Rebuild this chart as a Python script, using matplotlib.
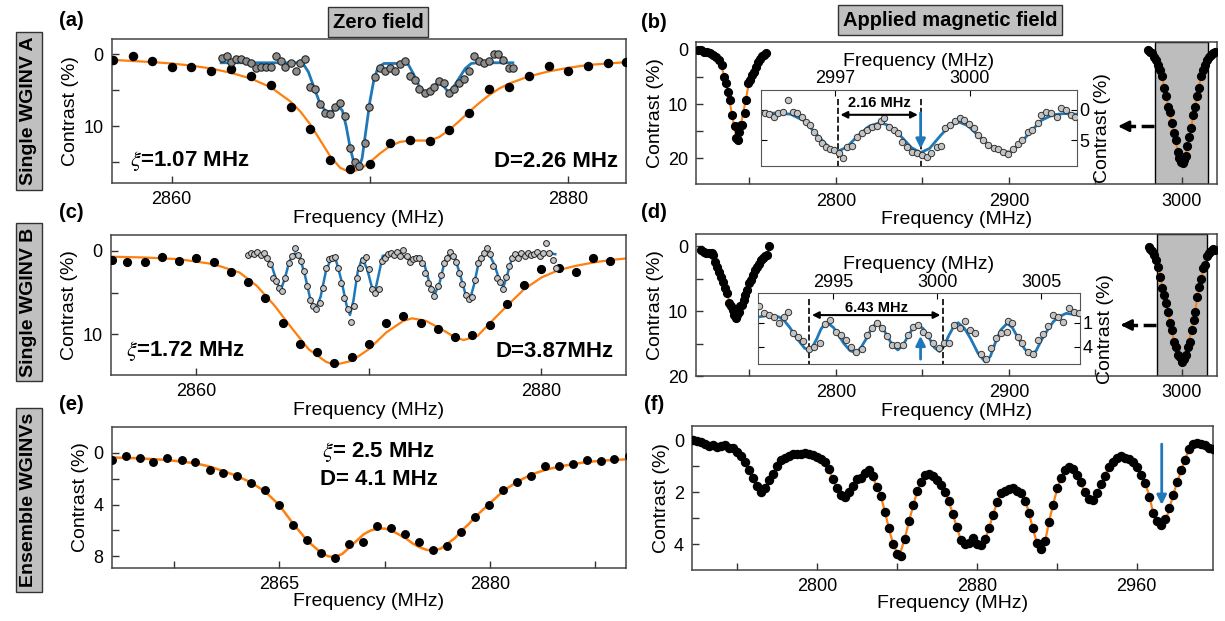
import numpy as np
import matplotlib
matplotlib.use('Agg')
import matplotlib.pyplot as plt

plt.rcParams['font.family'] = ['Liberation Sans', 'DejaVu Sans']
plt.rcParams['mathtext.fontset'] = 'stix'

W, H = 1225, 621
ORANGE = '#ff7f0e'
BLUE = '#1f78b9'

# ---------------- (a) single WGINV A, zero field ----------------
a_freq = [2857.06, 2858.05, 2859.0, 2860.0, 2861.0, 2862.0, 2863.0, 2864.0, 2865.0, 2866.0,
          2867.0, 2868.0, 2869.0, 2870.0, 2871.0, 2872.0, 2873.0, 2874.0, 2875.0, 2876.0,
          2877.0, 2878.0, 2879.0, 2880.0, 2881.0, 2882.0, 2882.9]
a_contrast = [0.8, 0.23, 0.9, 1.8, 1.8, 2.3, 2.0, 3.0, 4.3, 7.4,
              10.4, 14.7, 16.0, 15.2, 12.4, 11.9, 12.1, 10.5, 8.2, 4.9,
              4.5, 3.1, 1.6, 2.4, 1.7, 1.2, 1.1]
a_fit_freq = [2857, 2858, 2859, 2860, 2861, 2862, 2863, 2864, 2865, 2866, 2866.5, 2867, 2867.5,
              2868, 2868.5, 2869, 2869.5, 2870, 2870.5, 2871, 2871.5, 2872, 2872.5, 2873,
              2873.5, 2874, 2874.5, 2875, 2875.5, 2876, 2876.5, 2877, 2878, 2879, 2880, 2881,
              2882, 2883]
a_fit = [0.8, 0.95, 1.1, 1.3, 1.6, 2.0, 2.6, 3.4, 4.6, 6.6, 8.0, 9.8, 12.0,
         14.2, 15.8, 16.4, 16.0, 15.0, 13.8, 12.8, 12.2, 12.0, 12.0, 12.0,
         11.5, 10.5, 9.3, 8.0, 6.8, 5.7, 4.8, 4.1, 3.1, 2.4, 1.9, 1.5,
         1.3, 1.1]
a_odmr_freq = [2862.52, 2862.78, 2863.02, 2863.26, 2863.52, 2863.75, 2864.01, 2864.25, 2864.51, 2864.75,
               2865.0, 2865.26, 2865.5, 2865.74, 2866.0, 2866.26, 2866.49, 2866.73, 2866.99, 2867.25,
               2867.49, 2867.73, 2867.98, 2868.24, 2868.48, 2868.74, 2868.98, 2869.24, 2869.47, 2869.73,
               2869.97, 2870.27, 2870.51, 2870.76, 2871.02, 2871.26, 2871.5, 2871.76, 2872.02, 2872.25,
               2872.49, 2872.75, 2873.01, 2873.25, 2873.49, 2873.74, 2874.0, 2874.24, 2874.48, 2874.74,
               2874.99, 2875.23, 2875.47, 2875.73, 2875.99, 2876.23, 2876.46, 2876.72, 2876.98, 2877.22]
a_odmr = [0.56, 0.33, 1.16, 0.65, 0.65, 0.93, 1.26, 1.95, 1.72, 1.72,
          1.72, 0.23, 1.02, 1.72, 1.26, 2.33, 1.26, 0.7, 4.51, 4.88,
          6.93, 8.23, 8.33, 7.4, 6.74, 8.6, 13.1, 15.0, 15.5, 12.3,
          7.3, 3.12, 1.95, 2.33, 1.86, 2.33, 1.4, 0.93, 3.02, 3.58,
          4.88, 5.44, 5.07, 4.6, 3.67, 3.95, 5.35, 4.88, 4.05, 3.49,
          2.33, 0.33, 0.93, 1.26, 0.93, -0.05, -0.05, 0.79, 1.86, 1.86]
a_odmr_fit_freq = [2862.5, 2866.6, 2866.9, 2867.2, 2867.5, 2867.8, 2868.1, 2868.4, 2868.6, 2868.8,
                   2869.0, 2869.2, 2869.4, 2869.6, 2869.8, 2870.0, 2870.2, 2870.4, 2870.7, 2871.9,
                   2872.2, 2872.5, 2872.8, 2873.1, 2873.4, 2873.7, 2873.95, 2874.2, 2874.5, 2874.8,
                   2875.1, 2875.4, 2877.2]
a_odmr_fit = [1.2, 1.2, 2.5, 4.8, 7.0, 8.0, 7.9, 7.3, 7.8, 10.0,
              13.0, 15.2, 16.0, 14.5, 10.5, 6.5, 3.5, 1.9, 1.3, 1.3,
              2.8, 4.6, 5.3, 4.8, 4.0, 4.4, 5.3, 4.6, 3.3, 2.0,
              1.3, 1.2, 1.2]

# ---------------- (c) single WGINV B, zero field ----------------
c_freq = [2855.1, 2856.0, 2857.0, 2858.0, 2859.0, 2860.0, 2861.0, 2862.0, 2863.0, 2864.0,
          2865.0, 2866.0, 2867.0, 2868.0, 2869.0, 2870.0, 2871.0, 2872.0, 2873.0, 2874.0,
          2875.0, 2876.0, 2877.0, 2878.0, 2879.0, 2880.0, 2881.0, 2882.0, 2883.0, 2884.0]
c_contrast = [1.12, 1.32, 1.32, 0.72, 1.24, 0.8, 1.32, 2.52, 3.72, 5.6,
              8.64, 11.12, 12.12, 13.4, 12.72, 11.2, 8.64, 7.8, 8.64, 9.4,
              10.32, 10.12, 8.88, 6.4, 4.1, 2.2, 2.0, 2.5, 0.84, 1.2]
c_fit_freq = [2855, 2857, 2859, 2861, 2862.5, 2863.5, 2864.5, 2865.5, 2866.5, 2867.5, 2868,
              2869, 2870, 2871, 2872, 2872.5, 2873.3, 2874.2, 2875, 2875.5, 2876.3, 2877,
              2878, 2879, 2880, 2881, 2882, 2883, 2884, 2885]
c_fit = [0.7, 0.8, 1.0, 1.6, 2.6, 4.2, 6.5, 9.2, 11.8, 13.3, 13.7,
         13.2, 11.8, 9.8, 8.4, 8.1, 8.4, 9.4, 10.4, 10.7, 10.2, 8.7,
         6.6, 4.6, 3.2, 2.3, 1.8, 1.4, 1.1, 0.9]
c_odmr_freq = [2863.00, 2863.18, 2863.36, 2863.54, 2863.72, 2863.90, 2864.08, 2864.26, 2864.44, 2864.62,
               2864.80, 2864.98, 2865.16, 2865.34, 2865.52, 2865.70, 2865.88, 2866.06, 2866.24, 2866.42,
               2866.60, 2866.78, 2866.96, 2867.14, 2867.32, 2867.50, 2867.68, 2867.86, 2868.04, 2868.22,
               2868.40, 2868.58, 2868.76, 2868.94, 2869.12, 2869.30, 2869.48, 2869.66, 2869.84, 2870.02,
               2870.20, 2870.38, 2870.56, 2870.74, 2870.92, 2871.10, 2871.28, 2871.46, 2871.64, 2871.82,
               2872.00, 2872.18, 2872.36, 2872.54, 2872.72, 2872.90, 2873.08, 2873.26, 2873.44, 2873.62,
               2873.80, 2873.98, 2874.16, 2874.34, 2874.52, 2874.70, 2874.88, 2875.06, 2875.24, 2875.42,
               2875.60, 2875.78, 2875.96, 2876.14, 2876.32, 2876.50, 2876.68, 2876.86, 2877.04, 2877.22,
               2877.40, 2877.58, 2877.76, 2877.94, 2878.12, 2878.30, 2878.48, 2878.66, 2878.84, 2879.02,
               2879.20, 2879.38, 2879.56, 2879.74, 2879.92, 2880.10, 2880.28, 2880.46, 2880.64, 2880.82]
c_odmr = [0.5, 0.2, 0.4, 0.1, 0.5, 0.3, 0.9, 1.6, 3.2, 3.6,
          4.4, 4.8, 3.3, 1.5, 0.6, -0.3, 0.5, 1.2, 2.4, 4.2,
          5.9, 6.6, 7.0, 6.2, 4.5, 2.0, 1.0, 0.8, 0.7, 2.0,
          3.8, 5.7, 7.0, 8.5, 6.6, 3.2, 2.0, 1.1, 0.7, 2.2,
          4.6, 5.0, 4.6, 1.2, 0.8, 0.4, 0.2, 0.5, 0.1, 0.6,
          -0.1, 0.6, 1.3, 1.0, 0.8, 0.9, 1.5, 2.6, 3.8, 4.6,
          5.4, 4.2, 2.9, 1.4, 0.8, 0.1, 0.6, 1.3, 2.6, 4.0,
          5.3, 5.8, 5.5, 3.5, 1.4, 0.9, 0.2, -0.3, 0.4, 1.8,
          3.2, 3.7, 4.6, 3.1, 1.8, 0.9, 0.4, 0.8, 0.3, 0.6,
          0.2, 0.5, 0.4, 0.1, 0.6, 0.2, -0.9, 0.3, 1.1, 2.0]
c_odmr_fit_freq = [2863.0, 2863.5, 2864.0, 2864.4, 2864.7, 2864.9, 2865.1, 2865.4, 2865.7, 2866.0,
                   2866.3, 2866.6, 2866.9, 2867.2, 2867.5, 2867.8, 2868.1, 2868.4, 2868.7, 2868.9,
                   2869.1, 2869.35, 2869.6, 2869.9, 2870.2, 2870.35, 2870.55, 2870.8, 2871.2, 2871.8,
                   2872.2, 2872.5, 2872.9, 2873.2, 2873.5, 2873.8, 2874.1, 2874.4, 2874.7, 2875.0,
                   2875.3, 2875.6, 2875.85, 2876.1, 2876.4, 2876.7, 2877.0, 2877.3, 2877.6, 2877.8,
                   2878.0, 2878.3, 2878.6, 2879.5, 2880.5, 2880.8]
c_odmr_fit = [0.4, 0.3, 0.6, 2.0, 4.0, 4.6, 3.5, 1.2, 0.3, 0.8,
              3.0, 5.8, 7.1, 5.5, 2.5, 0.9, 1.2, 3.5, 6.5, 7.7,
              6.0, 2.5, 0.9, 2.2, 4.6, 4.9, 3.0, 0.6, 0.4, 0.4,
              0.9, 1.3, 0.8, 1.5, 3.8, 5.3, 3.8, 1.2, 0.2, 0.9,
              3.0, 5.2, 5.9, 4.0, 1.0, 0.4, 0.5, 1.8, 3.8, 4.3,
              3.0, 0.8, 0.4, 0.3, 0.3, 0.4]

# ---------------- (e) ensemble, zero field ----------------
e_freq = [2853.07, 2854.06, 2855.05, 2856.03, 2857.02, 2858.04, 2859.02, 2860.04, 2861.02, 2862.01,
          2863.0, 2864.01, 2865.0, 2865.99, 2867.0, 2867.99, 2868.98, 2869.96, 2870.98, 2871.96,
          2872.95, 2873.94, 2874.95, 2875.94, 2876.95, 2877.94, 2878.93, 2879.94, 2880.93, 2881.94,
          2882.93, 2883.95, 2884.93, 2885.92, 2886.91, 2887.89, 2888.88, 2889.9]
e_contrast = [0.52, 0.26, 0.39, 0.7, 0.39, 0.52, 0.7, 1.34, 1.52, 1.81,
              2.32, 2.89, 4.03, 5.55, 6.71, 7.74, 8.13, 7.02, 6.92, 5.63,
              5.78, 6.25, 6.86, 7.54, 7.23, 6.14, 4.98, 4.0, 2.89, 2.25,
              1.75, 1.03, 1.03, 0.83, 0.52, 0.59, 0.46, 0.21]
e_fit_freq = [2853, 2855, 2857, 2859, 2860, 2861, 2862, 2863, 2864, 2865, 2866, 2867, 2868,
              2868.5, 2869, 2869.5, 2870, 2870.5, 2871, 2871.5, 2872, 2872.5, 2873, 2873.5,
              2874, 2874.5, 2875, 2875.5, 2876, 2876.5, 2877, 2877.5, 2878, 2878.5, 2879,
              2879.5, 2880, 2880.5, 2881, 2882, 2883, 2884, 2885, 2886, 2887, 2888, 2889.7]
e_fit = [0.35, 0.42, 0.55, 0.8, 1.05, 1.4, 1.8, 2.3, 3.0, 4.05, 5.5, 6.8, 7.75,
         8.0, 8.05, 7.8, 7.3, 6.8, 6.3, 6.0, 5.85, 5.85, 6.0, 6.3,
         6.6, 7.0, 7.3, 7.5, 7.55, 7.4, 7.0, 6.6, 6.0, 5.5, 4.9,
         4.4, 3.9, 3.4, 2.9, 2.2, 1.65, 1.3, 1.05, 0.85, 0.7, 0.6, 0.5]

# ---------------- (b) single WGINV A, applied field ----------------
b_left_freq = [2720.4, 2722.0, 2723.8, 2725.6, 2727.2, 2728.8, 2730.6, 2732.4, 2734.0, 2735.1,
               2736.3, 2737.4, 2738.5, 2740.1, 2741.5, 2742.4, 2743.3, 2744.2, 2745.1, 2746.0,
               2747.2, 2748.3, 2749.2, 2750.3, 2751.5, 2752.6, 2753.7, 2755.1, 2756.2, 2757.4,
               2758.5, 2759.4]
b_left = [0.0, 0.12, 0.31, 0.49, 0.62, 0.92, 1.23, 1.85, 2.77, 4.92,
          6.15, 7.69, 9.23, 12.0, 14.0, 16.3, 16.6, 15.1, 13.8, 13.8,
          11.7, 9.2, 6.2, 5.5, 4.6, 4.0, 3.1, 2.2, 1.7, 1.2,
          0.9, 0.6]
b_left_fit_freq = [2720.4, 2724, 2728, 2731, 2733, 2735, 2737, 2739, 2741, 2742.5, 2743.5, 2745,
                   2746.5, 2748, 2749.5, 2751, 2753, 2755, 2757, 2759.4]
b_left_fit = [0.0, 0.3, 0.8, 1.5, 2.4, 4.3, 7.0, 10.3, 13.8, 16.2, 16.4, 13.9,
              11.5, 9.0, 6.5, 4.8, 3.4, 2.2, 1.3, 0.6]
b_right_freq = [2980.5, 2981.9, 2983.0, 2984.1, 2985.3, 2986.4, 2987.5, 2988.7, 2989.8, 2990.9,
                2992.1, 2993.2, 2994.3, 2995.5, 2996.6, 2997.7, 2998.6, 2999.5, 3000.5, 3001.4,
                3002.3, 3003.2, 3004.3, 3005.4, 3006.6, 3007.7, 3008.8, 3010.0, 3011.1, 3012.2,
                3013.4, 3014.5, 3015.6, 3016.8, 3017.9, 3019.0]
b_right = [0.0, 0.31, 0.62, 1.23, 1.85, 2.77, 3.69, 4.8, 7.1, 8.6,
           10.5, 11.4, 13.5, 15.4, 16.6, 18.8, 20.0, 20.6, 20.9, 20.3,
           19.6, 17.8, 16.0, 14.5, 12.0, 10.5, 8.6, 7.1, 4.9, 3.7,
           2.8, 1.85, 1.23, 0.92, 0.62, 0.31]
b_right_fit_freq = [2980.5, 2983, 2985, 2987, 2989, 2991, 2993, 2995, 2997, 2999, 3000.3, 3001.5,
                    3003, 3005, 3007, 3009, 3011, 3013, 3015, 3017, 3019]
b_right_fit = [0.0, 0.6, 1.7, 3.3, 5.6, 8.7, 11.5, 14.6, 17.6, 20.3, 21.0, 20.4,
               18.2, 15.0, 11.6, 8.3, 5.2, 3.0, 1.5, 0.8, 0.3]
# inset (b): zoom of the 3000 MHz dip
bi_freq = [2995.43, 2995.51, 2995.63, 2995.73, 2995.84, 2995.95, 2996.05, 2996.15, 2996.26, 2996.34,
           2996.43, 2996.52, 2996.61, 2996.69, 2996.78, 2996.87, 2996.97, 2997.09, 2997.17, 2997.26,
           2997.38, 2997.48, 2997.59, 2997.7, 2997.81, 2997.92, 2998.01, 2998.09, 2998.2, 2998.31,
           2998.4, 2998.49, 2998.6, 2998.71, 2998.81, 2998.92, 2999.04, 2999.14, 2999.26, 2999.36,
           2999.45, 2999.56, 2999.67, 2999.77, 2999.87, 2999.97, 3000.09, 3000.19, 3000.3, 3000.41,
           3000.53, 3000.63, 3000.74, 3000.85, 3000.96, 3001.07, 3001.17, 3001.29, 3001.39, 3001.51,
           3001.59, 3001.7, 3001.81, 3001.93, 3002.03, 3002.14, 3002.25, 3002.34]
bi_contrast = [0.56, 0.67, 1.22, 0.56, 0.28, -1.67, 0.28, 0.56, 1.22, 1.94,
               2.5, 3.6, 4.72, 5.56, 6.1, 6.56, 6.67, 7.22, 8.06, 6.1,
               6.0, 4.44, 3.89, 3.33, 2.78, 2.67, 1.78, 1.39, 2.78, 3.33,
               3.78, 5.28, 6.11, 6.94, 7.22, 7.5, 7.78, 7.22, 6.11, 6.0,
               3.06, 2.5, 1.78, 1.39, 1.67, 2.33, 3.06, 4.17, 5.0, 5.83,
               6.39, 6.56, 6.94, 7.33, 6.56, 5.67, 5.0, 3.61, 3.33, 2.22,
               0.83, 0.28, 0.56, 1.11, -0.28, 0.0, 0.83, 1.11]
bi_fit_freq = [2995.34, 2995.7, 2996.0, 2996.3, 2996.6, 2996.85, 2997.05, 2997.25, 2997.5, 2997.75,
               2998.0, 2998.2, 2998.45, 2998.7, 2998.9, 2999.1, 2999.35, 2999.55, 2999.75, 2999.95,
               3000.2, 3000.45, 3000.7, 3000.9, 3001.1, 3001.35, 3001.6, 3001.85, 3002.1, 3002.38]
bi_fit = [0.6, 0.5, 0.7, 1.8, 4.2, 6.2, 6.9, 6.2, 4.3, 2.7,
          2.1, 2.6, 4.3, 6.3, 7.1, 6.4, 4.2, 2.6, 2.0, 2.6,
          4.4, 6.0, 6.9, 7.0, 5.8, 3.6, 1.7, 0.8, 0.6, 0.7]

# ---------------- (d) single WGINV B, applied field ----------------
d_left_freq = [2722.2, 2723.5, 2725.1, 2726.7, 2728.1, 2729.2, 2730.3, 2731.4, 2732.6, 2733.7,
               2734.8, 2735.9, 2737.1, 2738.0, 2739.1, 2740.3, 2741.2, 2742.1, 2743.0, 2743.9,
               2744.8, 2745.7, 2746.6, 2747.7, 2748.9, 2750.0, 2751.1, 2752.3, 2753.4, 2754.5,
               2755.7, 2756.8, 2757.9, 2759.0, 2760.2, 2761.3]
d_left = [0.62, 0.87, 1.03, 1.03, 1.13, 1.38, 2.41, 3.18, 3.95, 4.72,
          5.49, 6.51, 7.28, 8.82, 9.23, 9.85, 10.6, 11.1, 10.6, 10.1,
          9.3, 9.1, 8.3, 7.5, 6.8, 5.7, 5.2, 4.5, 3.7, 3.2,
          2.7, 2.2, 1.8, 1.5, 1.4, 0.0]
d_left_fit_freq = [2722.2, 2726, 2729, 2731, 2733, 2735, 2737, 2739, 2741, 2742.3, 2743.5, 2745,
                   2747, 2749, 2751, 2753, 2755, 2757, 2759, 2760.5, 2761.3]
d_left_fit = [0.6, 0.9, 1.4, 2.8, 4.3, 5.7, 7.3, 9.0, 10.4, 11.0, 10.6, 9.3,
              7.9, 6.6, 5.2, 4.0, 2.9, 2.1, 1.5, 1.0, 0.2]
d_right_freq = [2980.8, 2981.9, 2983.0, 2984.2, 2985.3, 2986.4, 2987.6, 2988.7, 2989.8, 2990.9,
                2992.1, 2993.2, 2994.3, 2995.5, 2996.6, 2997.7, 2998.9, 3000.0, 3001.1, 3002.3,
                3003.4, 3004.5, 3005.7, 3006.8, 3007.9, 3009.0, 3010.2, 3011.3, 3012.4, 3013.6,
                3014.7, 3015.8, 3016.9, 3018.1, 3019.2]
d_right = [0.1, 0.5, 0.7, 1.4, 2.2, 3.2, 4.7, 6.5, 7.5, 8.8,
           10.1, 11.9, 12.9, 14.7, 15.5, 16.8, 17.0, 17.8, 17.4, 16.8,
           15.5, 14.7, 12.9, 11.4, 10.1, 7.8, 6.3, 5.0, 3.4, 2.9,
           1.6, 1.1, 0.7, 0.5, 0.6]
d_right_fit_freq = [2980.8, 2983, 2985, 2987, 2989, 2991, 2993, 2995, 2997, 2999, 3000.2, 3001.5,
                    3003, 3005, 3007, 3009, 3011, 3013, 3015, 3017, 3019.2]
d_right_fit = [0.1, 0.8, 1.9, 3.8, 6.6, 9.0, 11.5, 14.0, 16.3, 17.6, 18.0, 17.5,
               15.9, 13.7, 11.0, 8.0, 5.3, 3.0, 1.5, 0.8, 0.5]
# inset (d)
di_freq = [2991.42, 2991.66, 2991.89, 2992.13, 2992.36, 2992.6, 2992.83, 2993.06, 2993.3, 2993.55,
           2993.81, 2994.06, 2994.34, 2994.58, 2994.85, 2995.11, 2995.38, 2995.62, 2995.85, 2996.09,
           2996.36, 2996.6, 2996.85, 2997.08, 2997.32, 2997.57, 2997.83, 2998.08, 2998.34, 2998.58,
           2998.83, 2999.06, 2999.3, 2999.57, 2999.81, 3000.06, 3000.34, 3000.57, 3000.81, 3001.08,
           3001.32, 3001.57, 3001.83, 3002.08, 3002.36, 3002.58, 3002.83, 3003.08, 3003.34, 3003.4,
           3003.58, 3003.87, 3004.09, 3004.34, 3004.58, 3004.85, 3005.09, 3005.34, 3005.57, 3005.81,
           3006.04, 3006.32, 3006.55, 3006.79]
di_contrast = [-1.08, -0.25, 0.04, 0.25, 1.0, 0.25, -0.38, 2.33, 2.75, 3.29,
               4.29, 4.0, 3.5, 1.17, 0.67, 2.13, 2.54, 3.17, 4.0, 4.63,
               4.33, 2.54, 1.71, 1.0, 1.71, 2.67, 3.79, 3.79, 3.79, 2.54,
               1.5, 1.29, 2.13, 2.54, 3.58, 4.21, 3.5, 3.58, 1.29, 1.71,
               0.75, 1.92, 2.33, 4.92, 5.58, 4.21, 2.96, 2.25, 2.13, 0.75,
               1.0, 2.75, 3.5, 4.63, 4.92, 3.17, 2.42, 1.42, 0.04, 0.25,
               0.88, -0.79, -0.38, -0.17]
di_fit_freq = [2991.38, 2991.9, 2992.4, 2992.65, 2992.9, 2993.15, 2993.4, 2993.62, 2993.83, 2994.0,
               2994.2, 2994.4, 2994.6, 2994.8, 2995.0, 2995.25, 2995.5, 2995.8, 2996.1, 2996.35,
               2996.6, 2996.85, 2997.1, 2997.35, 2997.6, 2997.85, 2998.1, 2998.35, 2998.6, 2998.8,
               2999.05, 2999.3, 2999.6, 2999.85, 3000.1, 3000.3, 3000.55, 3000.8, 3001.0, 3001.3,
               3001.6, 3001.95, 3002.3, 3002.55, 3002.8, 3003.05, 3003.35, 3003.6, 3003.9, 3004.2,
               3004.5, 3004.75, 3005.0, 3005.3, 3005.6, 3005.9, 3006.2, 3006.85]
di_fit = [0.3, 0.05, 0.3, 0.8, 1.6, 2.6, 3.5, 4.2, 4.4, 4.0,
          3.0, 1.8, 1.1, 1.2, 1.6, 2.6, 3.6, 4.5, 4.75, 4.0,
          2.9, 1.6, 1.0, 1.6, 2.7, 3.9, 4.4, 3.8, 2.6, 1.8,
          1.3, 1.7, 2.9, 4.1, 4.6, 4.0, 2.6, 1.4, 1.0, 1.7,
          3.0, 4.8, 5.9, 5.2, 3.4, 1.9, 1.1, 1.6, 3.0, 4.3,
          5.0, 4.5, 3.2, 1.9, 0.8, 0.2, -0.17, 0.1]

# ---------------- (f) ensemble, applied field ----------------
f_freq = [2738, 2740, 2742, 2744, 2746, 2748, 2750, 2752, 2754, 2756, 2758, 2760, 2762, 2764,
          2766, 2768, 2770, 2772, 2774, 2776, 2778, 2780, 2782, 2784, 2786, 2788, 2790, 2792,
          2794, 2796, 2798, 2800, 2802, 2804, 2806, 2808, 2810, 2812, 2814, 2816, 2818, 2820,
          2822, 2824, 2826, 2828, 2830, 2832, 2834, 2836, 2838, 2840, 2842, 2844, 2846, 2848,
          2850, 2852, 2854, 2856, 2858, 2860, 2862, 2864, 2866, 2868, 2870, 2872, 2874, 2876,
          2878, 2880, 2882, 2884, 2886, 2888, 2890, 2892, 2894, 2896, 2898, 2900, 2902, 2904,
          2906, 2908, 2910, 2912, 2914, 2916, 2918, 2920, 2922, 2924, 2926, 2928, 2930, 2932,
          2934, 2936, 2938, 2940, 2942, 2944, 2946, 2948, 2950, 2952, 2954, 2956, 2958, 2960,
          2962, 2964, 2966, 2968, 2970, 2972, 2974, 2976, 2978, 2980, 2982, 2984, 2986, 2988,
          2990, 2992, 2994, 2996, 2998]
f_contrast = [0.00, 0.05, 0.08, 0.15, 0.22, 0.18, 0.28, 0.24, 0.20, 0.30, 0.30, 0.45, 0.62, 0.85,
              1.15, 1.45, 1.75, 1.98, 1.85, 1.55, 1.30, 1.00, 0.78, 0.68, 0.60, 0.55, 0.52, 0.55,
              0.50, 0.55, 0.58, 0.65, 0.72, 0.85, 1.10, 1.50, 1.85, 2.10, 2.18, 2.00, 1.75, 1.50,
              1.45, 1.25, 1.15, 1.40, 1.80, 2.15, 2.75, 3.40, 4.00, 4.40, 4.45, 3.80, 3.10, 2.50,
              1.95, 1.60, 1.35, 1.30, 1.40, 1.55, 1.72, 2.00, 2.35, 2.85, 3.35, 3.85, 4.00, 3.95,
              3.75, 4.00, 4.05, 3.80, 3.40, 2.90, 2.40, 2.05, 1.95, 1.90, 1.85, 1.95, 2.05, 2.35,
              2.80, 3.40, 3.95, 4.20, 3.90, 3.15, 2.50, 1.85, 1.45, 1.15, 1.05, 1.10, 1.35, 1.60,
              2.00, 2.28, 2.30, 2.05, 1.70, 1.40, 1.05, 0.85, 0.70, 0.62, 0.68, 0.72, 0.85, 1.05,
              1.35, 1.65, 2.20, 2.80, 3.10, 3.25, 3.05, 2.60, 2.10, 1.60, 1.15, 0.75, 0.35, 0.15,
              0.10, 0.15, 0.20, 0.30, 0.35]
f_fit_freq = [2738.2, 2741.6, 2744.9, 2748.3, 2751.6, 2755, 2758.3, 2761.7, 2765, 2767.5, 2770,
              2772.2, 2774.7, 2777.6, 2780.1, 2783.4, 2786.8, 2790.1, 2793.5, 2796.8, 2800.2,
              2803.5, 2806, 2808.5, 2811, 2813.6, 2816.1, 2818.6, 2821.1, 2823.6, 2825.6, 2827.8,
              2830.3, 2832, 2834.5, 2837, 2839.2, 2841.4, 2844.15, 2846.65, 2849.15, 2851.65,
              2854.15, 2856.65, 2859.15, 2862.5, 2865, 2867.5, 2870, 2872.5, 2875, 2878.3, 2880.8,
              2883.3, 2885.8, 2888.3, 2890.8, 2893.3, 2895.8, 2898.3, 2900.8, 2903.3, 2905.8,
              2908.3, 2910.3, 2912.5, 2914.6, 2916.65, 2919.15, 2921.65, 2924.15, 2926.65,
              2929.15, 2931.65, 2934.15, 2936.65, 2939.15, 2941.65, 2944.15, 2946.65, 2950,
              2953.3, 2956, 2959.4, 2962, 2964.3, 2966.5, 2968.2, 2970.3, 2972.1, 2973.6, 2975.1,
              2977, 2979, 2981, 2982.9, 2984.8, 2986.8, 2990.7, 2994.6, 2998]
f_fit = [0.0, 0.06, 0.15, 0.2, 0.26, 0.26, 0.36, 0.58, 0.97, 1.36, 1.74,
         2.0, 1.74, 1.42, 0.97, 0.71, 0.58, 0.54, 0.52, 0.54, 0.67,
         0.77, 1.1, 1.61, 1.94, 2.17, 2.0, 1.68, 1.48, 1.35, 1.2, 1.42,
         1.81, 2.13, 2.9, 3.68, 4.19, 4.45, 3.74, 2.97, 2.26, 1.68,
         1.35, 1.26, 1.48, 1.74, 2.13, 2.71, 3.35, 3.94, 3.97, 3.77, 4.06,
         4.0, 3.48, 2.84, 2.26, 1.94, 1.87, 1.81, 1.94, 2.13, 2.71,
         3.48, 4.0, 4.19, 3.74, 2.97, 2.19, 1.55, 1.16, 1.03,
         1.16, 1.55, 2.06, 2.3, 2.26, 1.81, 1.35, 0.97, 0.71,
         0.6, 0.65, 0.9, 1.3, 1.67, 2.2, 2.82, 3.15, 3.25, 3.15, 2.95,
         2.45, 1.92, 1.45, 1.03, 0.62, 0.26, 0.06, 0.19, 0.38]


def px_axes(x0, y0, x1, y1):
    # axes placed by pixel box (top-left origin)
    return fig.add_axes([x0 / W, 1 - y1 / H, (x1 - x0) / W, (y1 - y0) / H])


def style(ax, xticks, xlabels, yticks, ylabels, xlim, ylim):
    ax.set_xlim(*xlim)
    ax.set_ylim(*ylim)
    ax.set_xticks(xticks)
    ax.set_xticklabels(xlabels)
    ax.set_yticks(yticks)
    ax.set_yticklabels(ylabels)
    ax.tick_params(direction='in', length=5, width=1, labelsize=13, pad=6, color='#333333')
    for s in ax.spines.values():
        s.set_color('#444444')
        s.set_linewidth(1.1)
    ax.set_ylabel('Contrast (%)', fontsize=14, labelpad=3)


def black_dots(ax, x, y, ms=5.5):
    ax.plot(x, y, 'o', ms=ms, mfc='black', mec='black', zorder=4)


fig = plt.figure(figsize=(W / 100, H / 100), dpi=100)

# (a)
ax = px_axes(112, 39, 626, 183)
ax.plot(a_fit_freq, a_fit, color=ORANGE, lw=1.6, zorder=2)
black_dots(ax, a_freq, a_contrast, 5.8)
ax.plot(a_odmr_fit_freq, a_odmr_fit, color=BLUE, lw=2, zorder=3)
ax.plot(a_odmr_freq, a_odmr, 'o', ms=5.3, mfc='#8c8c8c', mec='#222222', mew=0.8, zorder=5)
style(ax, [2860, 2870, 2880], ['2860', '', '2880'], [0, 5, 10, 15], ['0', '', '10', ''],
      (2857.0, 2882.9), (17.9, -2.1))
ax.set_xlabel('Frequency (MHz)', fontsize=14, labelpad=1)
ax.text(0.035, 0.15, r'$\xi$=1.07 MHz', transform=ax.transAxes, fontsize=16, fontweight='bold',
        va='center')
ax.text(0.985, 0.15, 'D=2.26 MHz', transform=ax.transAxes, fontsize=16, fontweight='bold',
        va='center', ha='right')

# (c)
ax = px_axes(111, 235, 626, 375)
ax.plot(c_fit_freq, c_fit, color=ORANGE, lw=1.6, zorder=2)
black_dots(ax, c_freq, c_contrast, 5.6)
ax.plot(c_odmr_fit_freq, c_odmr_fit, color=BLUE, lw=1.8, zorder=3)
ax.plot(c_odmr_freq, c_odmr, 'o', ms=4.2, mfc='#c4c4c4', mec='#222222', mew=0.7, zorder=5)
style(ax, [2860, 2870, 2880], ['2860', '', '2880'], [0, 5, 10], ['0', '', '10'],
      (2855.05, 2884.9), (14.9, -1.9))
ax.set_xlabel('Frequency (MHz)', fontsize=14, labelpad=1)
ax.text(0.03, 0.17, r'$\xi$=1.72 MHz', transform=ax.transAxes, fontsize=16, fontweight='bold',
        va='center')
ax.text(0.975, 0.17, 'D=3.87MHz', transform=ax.transAxes, fontsize=16, fontweight='bold',
        va='center', ha='right')

# (e)
ax = px_axes(111.5, 427, 626, 568)
ax.plot(e_fit_freq, e_fit, color=ORANGE, lw=1.8, zorder=2)
black_dots(ax, e_freq, e_contrast, 5.4)
style(ax, [2857.5, 2865, 2872.5, 2880, 2887.5], ['', '2865', '', '2880', ''],
      [0, 2, 4, 6, 8], ['0', '', '4', '', '8'], (2853.04, 2889.7), (8.9, -2.0))
ax.set_xlabel('Frequency (MHz)', fontsize=14, labelpad=0)
ax.text(0.52, 0.82, r'$\xi$= 2.5 MHz', transform=ax.transAxes, fontsize=16, fontweight='bold',
        va='center', ha='center')
ax.text(0.52, 0.63, 'D= 4.1 MHz', transform=ax.transAxes, fontsize=16, fontweight='bold',
        va='center', ha='center')

# (b)
ax = px_axes(696.3, 41.7, 1216.7, 184.3)
ax.axvspan(2984.6, 3015.2, facecolor='#bdbdbd', edgecolor='black', lw=1, zorder=0)
for fx, fy in [(b_left_fit_freq, b_left_fit), (b_right_fit_freq, b_right_fit)]:
    ax.plot(fx, fy, color=ORANGE, lw=1.5, zorder=2)
black_dots(ax, b_left_freq, b_left, 5.6)
black_dots(ax, b_right_freq, b_right, 5.6)
style(ax, [2750, 2800, 2850, 2900, 2950, 3000], ['', '2800', '', '2900', '', '3000'],
      [0, 5, 10, 15, 20], ['0', '', '10', '', '20'], (2719.3, 3020.2), (24.8, -1.5))
ax.set_xlabel('Frequency (MHz)', fontsize=14, labelpad=1)
ax.plot([2984, 2967], [14.1, 14.1], color='black', ls='--', lw=2.5, zorder=3)
ax.annotate('', xy=(2961.5, 14.1), xytext=(2968, 14.1),
            arrowprops=dict(arrowstyle='-|>', color='black', lw=2, mutation_scale=16))

axi = px_axes(761, 90, 1076.7, 165.7)
axi.plot(bi_fit_freq, bi_fit, color=BLUE, lw=2, zorder=2)
axi.plot(bi_freq, bi_contrast, 'o', ms=4.6, mfc='#c4c4c4', mec='#333333', mew=0.7, zorder=3)
axi.set_xlim(2995.34, 3002.38)
axi.set_ylim(9.28, -3.33)
axi.set_xticks([2997, 3000])
axi.set_yticks([0, 5])
axi.tick_params(direction='in', length=4, labelsize=13, pad=2, top=True, labeltop=True,
                bottom=False, labelbottom=False, right=True, labelright=True, left=True,
                labelleft=False)
axi.xaxis.set_label_position('top')
axi.set_xlabel('Frequency (MHz)', fontsize=14, labelpad=3)
axi.yaxis.set_label_position('right')
axi.set_ylabel('Contrast (%)', fontsize=14, labelpad=3)
for s in axi.spines.values():
    s.set_color('#555555')
axi.vlines([2997.05, 2998.9], -1.9, 9.28, colors='black', linestyles='--', lw=1.2)
axi.annotate('', xy=(2998.9, 0.8), xytext=(2997.05, 0.8),
             arrowprops=dict(arrowstyle='<|-|>', color='black', lw=1.5, mutation_scale=10))
axi.text(2997.97, -1.2, '2.16 MHz', fontsize=10.5, fontweight='bold', ha='center', va='center')
axi.annotate('', xy=(2998.9, 6.9), xytext=(2998.9, 0.0),
             arrowprops=dict(arrowstyle='-|>', color=BLUE, lw=2, mutation_scale=14))

# (d)
ax = px_axes(696.3, 234, 1216.7, 376)
ax.axvspan(2985.7, 3014.7, facecolor='#bdbdbd', edgecolor='black', lw=1, zorder=0)
for fx, fy in [(d_left_fit_freq, d_left_fit), (d_right_fit_freq, d_right_fit)]:
    ax.plot(fx, fy, color=ORANGE, lw=1.5, zorder=2)
black_dots(ax, d_left_freq, d_left, 5.6)
black_dots(ax, d_right_freq, d_right, 5.6)
style(ax, [2750, 2800, 2850, 2900, 2950, 3000], ['', '2800', '', '2900', '', '3000'],
      [0, 5, 10, 15, 20], ['0', '', '10', '', '20'], (2719.3, 3020.2), (20.0, -1.85))
ax.set_xlabel('Frequency (MHz)', fontsize=14, labelpad=1)
ax.plot([2985, 2969], [12.15, 12.15], color='black', ls='--', lw=2.5, zorder=3)
ax.annotate('', xy=(2963, 12.15), xytext=(2969.5, 12.15),
            arrowprops=dict(arrowstyle='-|>', color='black', lw=2, mutation_scale=16))

axi = px_axes(758.2, 293.3, 1079.8, 364)
axi.plot(di_fit_freq, di_fit, color=BLUE, lw=2, zorder=2)
axi.plot(di_freq, di_contrast, 'o', ms=4.6, mfc='#c4c4c4', mec='#333333', mew=0.7, zorder=3)
axi.set_xlim(2991.38, 3006.85)
axi.set_ylim(6.16, -2.67)
axi.set_xticks([2995, 3000, 3005])
axi.set_yticks([1, 4])
axi.tick_params(direction='in', length=4, labelsize=13, pad=2, top=True, labeltop=True,
                bottom=False, labelbottom=False, right=True, labelright=True, left=True,
                labelleft=False)
axi.xaxis.set_label_position('top')
axi.set_xlabel('Frequency (MHz)', fontsize=14, labelpad=3)
axi.yaxis.set_label_position('right')
axi.set_ylabel('Contrast (%)', fontsize=14, labelpad=3)
for s in axi.spines.values():
    s.set_color('#555555')
axi.vlines([2993.83, 3000.28], -1.9, 6.16, colors='black', linestyles='--', lw=1.2)
axi.annotate('', xy=(3000.28, 0.05), xytext=(2993.83, 0.05),
             arrowprops=dict(arrowstyle='<|-|>', color='black', lw=1.5, mutation_scale=10))
axi.text(2997.08, -0.8, '6.43 MHz', fontsize=10.5, fontweight='bold', ha='center', va='center')
axi.annotate('', xy=(2999.19, 2.3), xytext=(2999.19, 5.9),
             arrowprops=dict(arrowstyle='-|>', color=BLUE, lw=2, mutation_scale=14))

# (f)
ax = px_axes(692.4, 426, 1212.7, 570)
ax.plot(f_fit_freq, f_fit, color=ORANGE, lw=1.6, zorder=2)
black_dots(ax, f_freq, f_contrast, 5.8)
style(ax, [2760, 2800, 2840, 2880, 2920, 2960], ['', '2800', '', '2880', '', '2960'],
      [0, 1, 2, 3, 4], ['0', '', '2', '', '4'], (2737.8, 2998), (5.0, -0.54))
ax.set_xlabel('Frequency (MHz)', fontsize=14, labelpad=0)
ax.annotate('', xy=(2972.5, 2.6), xytext=(2972.5, 0.05),
            arrowprops=dict(arrowstyle='-|>', color=BLUE, lw=2, mutation_scale=14), zorder=6)

# panel letters and header boxes
for lbl, x, y in [('(a)', 71, 20), ('(c)', 71, 213), ('(e)', 71, 405),
                  ('(b)', 654, 23), ('(d)', 654, 213), ('(f)', 654, 405)]:
    fig.text(x / W, 1 - y / H, lbl, fontsize=14.5, fontweight='bold', ha='center', va='center')

box = dict(boxstyle='square,pad=0.25', facecolor='#c0c0c0', edgecolor='#333333', lw=1)
fig.text(378 / W, 1 - 22 / H, 'Zero field', fontsize=14.5, fontweight='bold', ha='center',
         va='center', bbox=box)
fig.text(950 / W, 1 - 20 / H, 'Applied magnetic field', fontsize=14.5, fontweight='bold',
         ha='center', va='center', bbox=box)
for lbl, yc in [('Single WGINV A', 111), ('Single WGINV B', 302), ('Ensemble WGINVs', 500)]:
    fig.text(29 / W, 1 - yc / H, lbl, fontsize=14, fontweight='bold', rotation=90, ha='center',
             va='center', bbox=box)

fig.savefig('out.png', dpi=100)
